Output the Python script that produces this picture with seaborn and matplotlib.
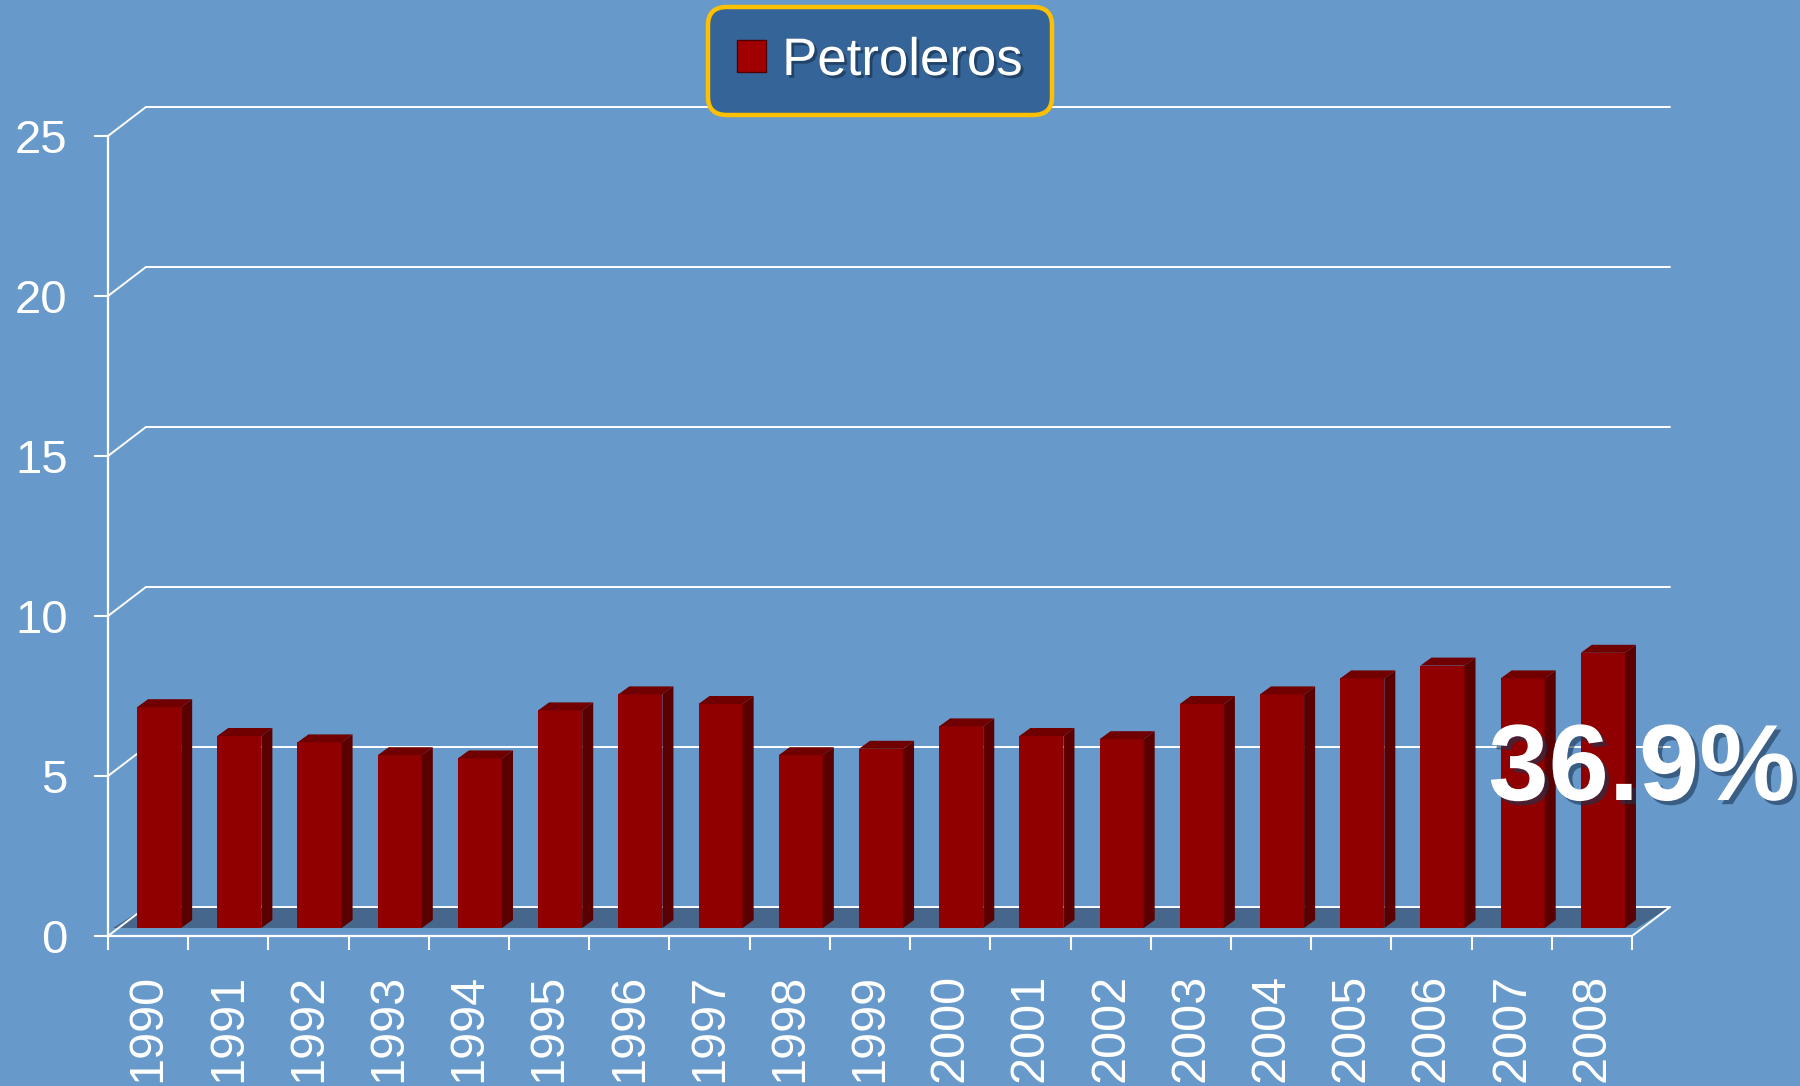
import matplotlib
matplotlib.use('Agg')
import numpy as np
import pandas as pd
import matplotlib.pyplot as plt
import matplotlib.transforms as mtransforms
import matplotlib.patheffects as pe
from matplotlib.patches import Polygon, Patch
from matplotlib.lines import Line2D
import seaborn as sns

# ---------------------------------------------
# datos
# ---------------------------------------------
anios = [str(a) for a in range(1990, 2009)]
petroleros = [6.9, 6.0, 5.8, 5.4, 5.3, 6.8, 7.3, 7.0, 5.4, 5.6,
              6.3, 6.0, 5.9, 7.0, 7.3, 7.8, 8.2, 7.8, 8.6]
y_ticks = [0, 5, 10, 15, 20, 25]
serie = 'Petroleros'
nota = '36.9%'

# colores
FONDO = '#6799cb'
ROJO = '#900000'
ROJO_LADO = '#5a0000'
ROJO_TOPE = '#700000'
PISO = '#46668c'
LEYENDA = '#346498'
ORO = '#ffc000'

sns.set_style('white')
plt.rcParams['font.family'] = ['Liberation Sans', 'DejaVu Sans']

df = pd.DataFrame({'anio': anios, 'valor': petroleros})

fig = plt.figure(figsize=(18, 10.86), dpi=100, facecolor=FONDO)
ax = fig.add_axes([108 / 1800, 1 - 936 / 1086, 1524 / 1800, 800 / 1086])
ax.set_facecolor('none')

sns.barplot(data=df, x='anio', y='valor', color=ROJO, saturation=1,
            width=0.55, edgecolor='none', ax=ax, zorder=3)
ax.set_xlim(-0.5, len(anios) - 0.5)
ax.set_ylim(0, 25)
ax.set_autoscale_on(False)
ax.set_xlabel('')
ax.set_ylabel('')

# profundidad (pixeles)
DX, DY = 38, 29        # pared del fondo
BX, BY = 11, 8         # desplazamiento de las barras
ident = mtransforms.IdentityTransform()
frente = ax.transData + mtransforms.ScaledTranslation(BX / 100, BY / 100, fig.dpi_scale_trans)

# piso
x0, y0 = ax.transData.transform((-0.5, 0))
x1, _ = ax.transData.transform((len(anios) - 0.5, 0))
ax.add_patch(Polygon([(x0 + 5, y0 + 8), (x1 + 5, y0 + 8), (x1 + DX, y0 + DY), (x0 + DX, y0 + DY)],
                     closed=True, facecolor=PISO, edgecolor='none',
                     transform=ident, zorder=1, clip_on=False))

# lineas de la pared del fondo y diagonales
for v in y_ticks:
    xa, ya = ax.transData.transform((-0.5, v))
    xb, _ = ax.transData.transform((len(anios) - 0.5, v))
    ax.add_line(Line2D([xa + DX, xb + DX], [ya + DY, ya + DY], color='white',
                       lw=1.4, transform=ident, zorder=1.5, clip_on=False))
    ax.add_line(Line2D([xa, xa + DX], [ya, ya + DY], color='white',
                       lw=1.4, transform=ident, zorder=1.5, clip_on=False))
ax.add_line(Line2D([x1, x1 + DX], [y0, y0 + DY], color='white',
                   lw=1.4, transform=ident, zorder=1.5, clip_on=False))

# barras con cara lateral y tapa
for p in list(ax.patches):
    if not hasattr(p, 'get_height') or p.get_transform() is ident:
        continue
    p.set_transform(frente)
    p.set_zorder(3)
    bx0, by0 = frente.transform((p.get_x(), 0))
    bx1, by1 = frente.transform((p.get_x() + p.get_width(), p.get_height()))
    ax.add_patch(Polygon([(bx1, by0), (bx1 + BX, by0 + BY), (bx1 + BX, by1 + BY), (bx1, by1)],
                         closed=True, facecolor=ROJO_LADO, edgecolor='none',
                         transform=ident, zorder=3, clip_on=False))
    ax.add_patch(Polygon([(bx0, by1), (bx1, by1), (bx1 + BX, by1 + BY), (bx0 + BX, by1 + BY)],
                         closed=True, facecolor=ROJO_TOPE, edgecolor='none',
                         transform=ident, zorder=3, clip_on=False))

# ejes
for s in ['top', 'right']:
    ax.spines[s].set_visible(False)
for s in ['left', 'bottom']:
    ax.spines[s].set_color('white')
    ax.spines[s].set_linewidth(1.6)
    ax.spines[s].set_zorder(4)

ax.set_yticks(y_ticks)
ax.tick_params(axis='y', left=True, colors='white', labelsize=34, length=10, width=1.5,
               direction='out', pad=19)
ax.set_xticks(range(len(anios)))
ax.set_xticklabels(anios, rotation=90)
ax.tick_params(axis='x', which='major', bottom=True, colors='white', labelsize=35,
               length=0, pad=27)
ax.set_xticks(np.arange(-0.5, len(anios), 1.0), minor=True)
ax.tick_params(axis='x', which='minor', bottom=True, colors='white', length=10,
               width=1.5, direction='out')

# leyenda
sombra = [pe.withSimplePatchShadow(offset=(2, -2), shadow_rgbFace='#1b3553', alpha=0.7)]
leg = fig.legend(handles=[Patch(facecolor='#a00000', edgecolor='#500000', label=serie)],
                 loc='center', bbox_to_anchor=(880 / 1800, 1 - 61 / 1086),
                 fontsize=38, frameon=True, facecolor=LEYENDA, edgecolor=ORO,
                 framealpha=1, fancybox=True, borderpad=0.55, handlelength=0.55,
                 handleheight=0.55, handletextpad=0.3, labelcolor='white')
leg.get_frame().set_linewidth(3.2)
leg.get_frame().set_boxstyle('round,pad=0,rounding_size=0.35')
for t in leg.get_texts():
    t.set_path_effects(sombra)

# nota
fig.text(1642 / 1800, 1 - 800 / 1086, nota, fontsize=78, weight='bold', color='white',
         ha='center', va='baseline',
         path_effects=[pe.withSimplePatchShadow(offset=(3, -3), shadow_rgbFace='#1b3553', alpha=0.6)])

fig.savefig('out.png', dpi=100, facecolor=FONDO)
